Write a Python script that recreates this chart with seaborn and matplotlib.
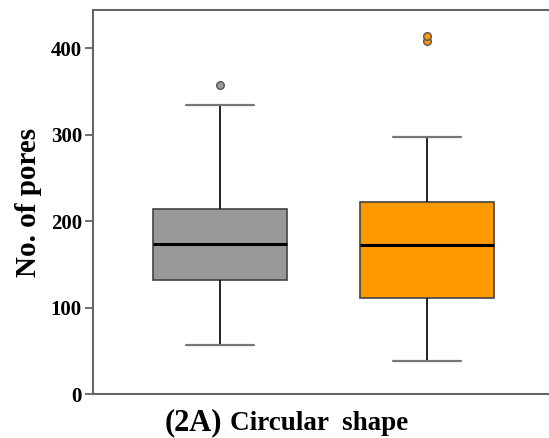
import matplotlib
matplotlib.use("Agg")
import matplotlib.pyplot as plt
import seaborn as sns
import pandas as pd

# values (quartiles, whiskers and outliers)
groups = ["A", "B"]
gray_pores = [57, 90, 110, 132, 145, 160, 173, 185, 200, 214, 280, 334, 357]
orange_pores = [38, 60, 90, 111, 130, 150, 172, 190, 205, 222, 297, 408, 414]
colors = ["#999999", "#FF9900"]

data = pd.DataFrame({
    "group": ["A"] * len(gray_pores) + ["B"] * len(orange_pores),
    "pores": gray_pores + orange_pores,
})

sns.set_style("ticks")
plt.rcParams["font.family"] = ["Liberation Serif", "DejaVu Serif"]
plt.rcParams["font.weight"] = "bold"
plt.rcParams["text.color"] = "black"
plt.rcParams["axes.labelcolor"] = "black"
plt.rcParams["ytick.labelcolor"] = "black"

fig = plt.figure(figsize=(5.49, 4.38), dpi=100)
ax = fig.add_axes([93 / 549, (438 - 394) / 438, 1 - 93 / 549, (394 - 10) / 438])

sns.boxplot(data=data, x="group", y="pores", hue="group", palette=colors,
            order=groups, width=0.65, saturation=1, legend=False, ax=ax,
            linecolor="#444444", linewidth=1.2,
            whiskerprops=dict(color="#111111", linewidth=1.3),
            capprops=dict(color="#777777", linewidth=1.6),
            medianprops=dict(color="#000000", linewidth=2.2),
            flierprops=dict(marker="o", markersize=5.5, markeredgecolor="#555555",
                            markeredgewidth=1.0))

for cont, c in zip(ax.containers, colors):
    try:
        for fl in cont.fliers:
            fl.set_markerfacecolor(c)
    except Exception:
        pass

ax.set_ylim(0, 444)
ax.set_xlim(-0.613, 1.59)
ax.set_yticks([0, 100, 200, 300, 400])
ax.set_xticks([])
ax.set_xlabel("")
ax.set_ylabel("No. of pores", fontsize=21, fontweight="bold", labelpad=6)
ax.tick_params(axis="y", labelsize=15, length=6, width=1.2, color="#555555",
               pad=2, labelcolor="black")
for lab in ax.get_yticklabels():
    lab.set_fontweight("bold")

for s in ["left", "top", "bottom"]:
    ax.spines[s].set_visible(True)
    ax.spines[s].set_color("#666666")
    ax.spines[s].set_linewidth(1.5)
ax.spines["right"].set_visible(False)

fig.text(165 / 549, 1 - 430 / 438, "(2A)", fontsize=22, fontweight="bold",
         ha="left", va="baseline")
fig.text(230 / 549, 1 - 430 / 438, "Circular  shape", fontsize=19.5, fontweight="bold",
         ha="left", va="baseline")

fig.savefig("out.png", dpi=100)
